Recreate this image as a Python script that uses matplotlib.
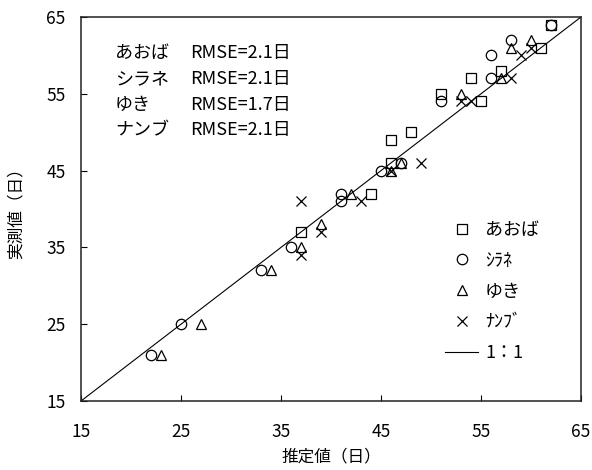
import matplotlib
matplotlib.use("Agg")
import matplotlib.pyplot as plt
from matplotlib.lines import Line2D

plt.rcParams['font.family'] = ['Noto Sans CJK JP', 'DejaVu Sans']

# estimated vs observed days per cultivar
aoba_x = [37, 44, 46, 46, 48, 51, 54, 55, 57, 61, 62]
aoba_y = [37, 42, 46, 49, 50, 55, 57, 54, 58, 61, 64]

shirane_x = [22, 25, 33, 36, 41, 41, 45, 47, 51, 56, 56, 58, 62]
shirane_y = [21, 25, 32, 35, 42, 41, 45, 46, 54, 60, 57, 62, 64]

yuki_x = [23, 27, 34, 37, 39, 42, 46, 47, 53, 57, 58, 60]
yuki_y = [21, 25, 32, 35, 38, 42, 45, 46, 55, 57, 61, 62]

nanbu_x = [37, 37, 39, 43, 46, 49, 53, 54, 58, 59, 60]
nanbu_y = [41, 34, 37, 41, 45, 46, 54, 54, 57, 60, 61]

names = ['あおば', 'シラネ', 'ゆき', 'ナンブ']
legend_names = ['あおば', 'ｼﾗﾈ', 'ゆき', 'ﾅﾝﾌﾞ']
rmse = [2.1, 2.1, 1.7, 2.1]
ticks = [15, 25, 35, 45, 55, 65]

fig = plt.figure(figsize=(5.92, 4.70), dpi=100)
ax = fig.add_axes([81 / 592, 1 - 401 / 470, 500 / 592, 384 / 470])

ax.plot([15, 65], [15, 65], color='black', lw=0.8, zorder=1)

mk = dict(linestyle='none', markersize=7.5, markerfacecolor='none',
          markeredgecolor='black', markeredgewidth=0.9, color='black')
ax.plot(aoba_x, aoba_y, marker='s', **mk)
ax.plot(shirane_x, shirane_y, marker='o', **mk)
ax.plot(yuki_x, yuki_y, marker='^', **mk)
ax.plot(nanbu_x, nanbu_y, marker='x', **mk)

ax.set_xlim(15, 65)
ax.set_ylim(15, 65)
ax.set_xticks(ticks)
ax.set_yticks(ticks)
ax.tick_params(direction='in', length=4.5, width=0.8, labelsize=12.5,
               top=False, right=False)
ax.tick_params(axis='x', pad=16)
ax.tick_params(axis='y', pad=11)
for s in ax.spines.values():
    s.set_linewidth(1.1)
    s.set_color('#222222')

ax.set_xlabel('推定値（日）', fontsize=12)
ax.set_ylabel('実測値（日）', fontsize=12)
ax.xaxis.set_label_coords(0.5, -0.123)
ax.yaxis.set_label_coords(-0.112, 0.5)

# RMSE summary, top left
row_y = [0.906, 0.839, 0.772, 0.705]
for nm, r, yy in zip(names, rmse, row_y):
    ax.text(0.068, yy, nm, transform=ax.transAxes, fontsize=13, va='center')
    ax.text(0.218, yy, f'RMSE={r:.1f}日', transform=ax.transAxes,
            fontsize=13, va='center')

handles = [
    Line2D([], [], marker='s', **mk),
    Line2D([], [], marker='o', **mk),
    Line2D([], [], marker='^', **mk),
    Line2D([], [], marker='x', **mk),
    Line2D([], [], color='black', lw=0.8),
]
ax.legend(handles, legend_names + ['1：1'], loc='upper left',
          bbox_to_anchor=(0.728, 0.469), frameon=False, fontsize=13,
          handlelength=1.83, handletextpad=0.39, labelspacing=0.71,
          borderpad=0, borderaxespad=0)

fig.savefig('out.png', dpi=100)
